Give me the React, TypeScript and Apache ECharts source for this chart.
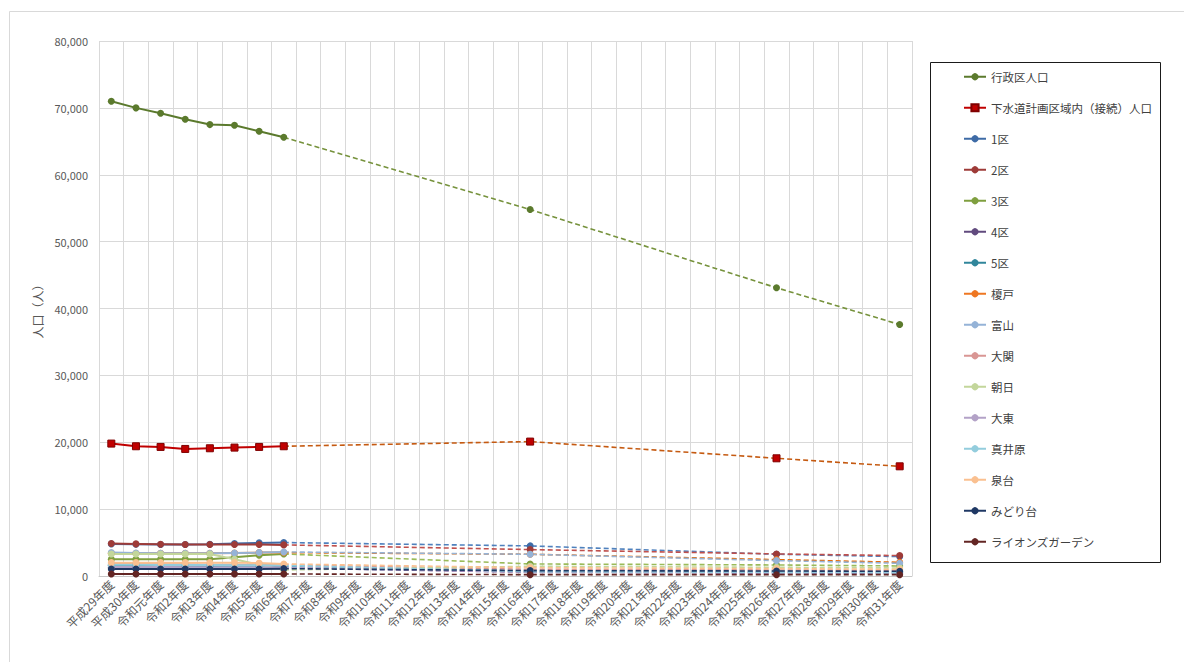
import React, { useEffect, useRef } from "react";
import * as echarts from "echarts";

const categories = [
  "平成29年度", "平成30年度", "令和元年度", "令和2年度", "令和3年度", "令和4年度", "令和5年度",
  "令和6年度", "令和7年度", "令和8年度", "令和9年度", "令和10年度", "令和11年度", "令和12年度",
  "令和13年度", "令和14年度", "令和15年度", "令和16年度", "令和17年度", "令和18年度", "令和19年度",
  "令和20年度", "令和21年度", "令和22年度", "令和23年度", "令和24年度", "令和25年度", "令和26年度",
  "令和27年度", "令和28年度", "令和29年度", "令和30年度", "令和31年度",
];

const seriesNames = [
  "行政区人口", "下水道計画区域内（接続）人口", "1区", "2区", "3区", "4区", "5区", "榎戸",
  "富山", "大関", "朝日", "大東", "真井原", "泉台", "みどり台", "ライオンズガーデン",
];

const seriesColors = [
  "#5B7A2D", "#C00000", "#3E6BA6", "#9E3B38", "#7F9F3F", "#614A7E", "#31869B", "#EE7722",
  "#95B3D7", "#D99694", "#C3D69B", "#B3A2C7", "#93CDDD", "#FAC090", "#1F3864", "#632523",
];

const projectionColors = [
  "#76923C", "#C55A11", "#4F81BD", "#C0504D", "#9BBB59", "#8064A2", "#4BACC6", "#E46C0A",
  "#95B3D7", "#D99694", "#C3D69B", "#B3A2C7", "#93CDDD", "#FAC090", "#1F3864", "#632523",
];

// actual values: 平成29年度 .. 令和6年度
const actual行政区人口 = [71000, 70000, 69200, 68300, 67500, 67400, 66500, 65600];
const actual下水道 = [19800, 19400, 19300, 19000, 19100, 19200, 19300, 19400];
const actual1区 = [4800, 4750, 4700, 4700, 4750, 4850, 4950, 5000];
const actual2区 = [4850, 4800, 4750, 4700, 4700, 4700, 4700, 4650];
const actual3区 = [2500, 2500, 2500, 2500, 2500, 2800, 3100, 3300];
const actual4区 = [1250, 1250, 1250, 1250, 1250, 1250, 1200, 1200];
const actual5区 = [1600, 1600, 1550, 1550, 1500, 1500, 1450, 1400];
const actual榎戸 = [3400, 3400, 3400, 3400, 3400, 3450, 3500, 3500];
const actual富山 = [3500, 3450, 3400, 3400, 3400, 3450, 3500, 3600];
const actual大関 = [1800, 1800, 1750, 1750, 1700, 1700, 1700, 1650];
const actual朝日 = [3300, 3300, 3300, 3300, 3300, 2500, 1700, 900];
const actual大東 = [1350, 1350, 1350, 1300, 1300, 1300, 1300, 1300];
const actual真井原 = [1700, 1700, 1650, 1650, 1650, 1600, 1600, 1600];
const actual泉台 = [2000, 2000, 2000, 2000, 2000, 2000, 1950, 1800];
const actualみどり台 = [1050, 1050, 1050, 1050, 1050, 1050, 1050, 1100];
const actualライオンズ = [300, 300, 300, 300, 300, 300, 300, 300];

// projection values at 令和6年度, 令和16年度, 令和26年度, 令和31年度
const projectionIndex = [7, 17, 27, 32];
const proj行政区人口 = [65600, 54800, 43100, 37600];
const proj下水道 = [19400, 20100, 17600, 16400];
const proj1区 = [5000, 4500, 3250, 2900];
const proj2区 = [4650, 3950, 3300, 3050];
const proj3区 = [3300, 1800, 1650, 1500];
const proj4区 = [1200, 550, 450, 400];
const proj5区 = [1400, 800, 700, 650];
const proj榎戸 = [3500, 3250, 2450, 2050];
const proj富山 = [3600, 3250, 2300, 1900];
const proj大関 = [1650, 1000, 900, 850];
const proj朝日 = [900, 1450, 1300, 1200];
const proj大東 = [1300, 600, 550, 500];
const proj真井原 = [1600, 650, 550, 500];
const proj泉台 = [1800, 1250, 1100, 1000];
const projみどり台 = [1100, 800, 750, 700];
const projライオンズ = [300, 200, 200, 200];

const actualData = [
  actual行政区人口, actual下水道, actual1区, actual2区, actual3区, actual4区, actual5区, actual榎戸,
  actual富山, actual大関, actual朝日, actual大東, actual真井原, actual泉台, actualみどり台, actualライオンズ,
];
const projectionData = [
  proj行政区人口, proj下水道, proj1区, proj2区, proj3区, proj4区, proj5区, proj榎戸,
  proj富山, proj大関, proj朝日, proj大東, proj真井原, proj泉台, projみどり台, projライオンズ,
];

const FONT = "'Noto Sans CJK JP', 'Noto Sans', sans-serif";

export default function App() {
  const ref = useRef<HTMLDivElement>(null);

  useEffect(() => {
    if (!ref.current) return;
    const chart = echarts.init(ref.current, null, { renderer: "svg" });

    const projSeries: any[] = [];
    const actSeries: any[] = [];
    seriesNames.forEach((name, i) => {
      const isSewer = i === 1;
      const symbol = isSewer ? "rect" : "circle";
      const symbolSize = 7;
      const pdata: any[] = categories.map(() => null);
      projectionIndex.forEach((idx, k) => {
        pdata[idx] = k === 0 ? { value: projectionData[i][k], symbol: "none" } : projectionData[i][k];
      });
      projSeries.push({
        name: name + "（推計）",
        type: "line",
        data: pdata,
        connectNulls: true,
        symbol,
        symbolSize,
        showAllSymbol: true,
        lineStyle: { color: projectionColors[i], width: 1.6, type: [5, 3] },
        itemStyle: {
          color: seriesColors[i],
          borderColor: isSewer ? "#7F0000" : seriesColors[i],
          borderWidth: isSewer ? 1 : 0,
        },
        z: 2,
      });
      actSeries.push({
        name,
        type: "line",
        data: actualData[i],
        symbol,
        symbolSize,
        showAllSymbol: true,
        lineStyle: { color: seriesColors[i], width: 2 },
        itemStyle: {
          color: seriesColors[i],
          borderColor: isSewer ? "#7F0000" : seriesColors[i],
          borderWidth: isSewer ? 1 : 0,
        },
        z: 3,
      });
    });

    chart.setOption({
      animation: false,
      backgroundColor: "#ffffff",
      textStyle: { fontFamily: FONT },
      grid: { left: 99, top: 41, width: 813, height: 535 },
      legend: {
        data: seriesNames,
        orient: "vertical",
        left: 963,
        top: 71,
        padding: 0,
        itemWidth: 22,
        itemHeight: 9,
        itemGap: 19.5,
        textStyle: { color: "#404040", fontSize: 11.5, fontFamily: FONT },
      },
      graphic: [
        {
          type: "rect",
          shape: { x: 9.5, y: 11.5, width: 1190, height: 670 },
          style: { fill: "none", stroke: "#D9D9D9", lineWidth: 1 },
          silent: true,
          z: -1,
        },
        {
          type: "rect",
          shape: { x: 930.5, y: 62.5, width: 230, height: 500 },
          style: { fill: "none", stroke: "#1a1a1a", lineWidth: 1 },
          silent: true,
        },
      ],
      xAxis: {
        type: "category",
        data: categories,
        boundaryGap: true,
        axisLine: { show: true, lineStyle: { color: "#C8C8C8", width: 1 } },
        axisTick: { show: false },
        splitLine: { show: true, lineStyle: { color: "#D9D9D9", width: 1 } },
        axisLabel: {
          interval: 0,
          rotate: 45,
          margin: 6,
          color: "#595959",
          fontSize: 12,
          fontFamily: FONT,
        },
      },
      yAxis: {
        type: "value",
        min: 0,
        max: 80000,
        interval: 10000,
        name: "人口（人）",
        nameLocation: "middle",
        nameRotate: 90,
        nameGap: 49,
        nameTextStyle: { color: "#595959", fontSize: 12, fontFamily: FONT },
        axisLine: { show: false },
        axisTick: { show: false },
        splitLine: { show: true, lineStyle: { color: "#D9D9D9", width: 1 } },
        axisLabel: {
          margin: 11,
          color: "#595959",
          fontSize: 11,
          fontFamily: FONT,
          formatter: (v: number) => v.toLocaleString("en-US"),
        },
      },
      series: [...projSeries, ...actSeries],
    });

    return () => chart.dispose();
  }, []);

  return (
    <div
      ref={ref}
      style={{ position: "fixed", left: 0, top: 0, width: 1184, height: 662, background: "#fff" }}
    />
  );
}
